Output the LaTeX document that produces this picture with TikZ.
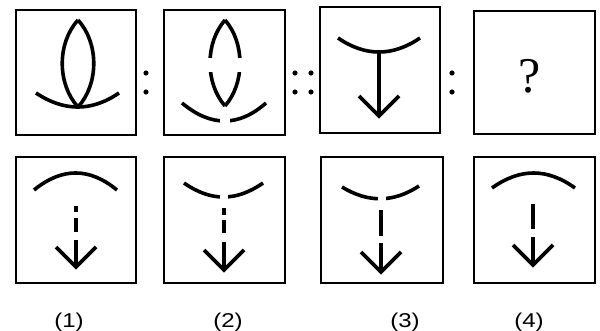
\documentclass[tikz,border=0pt]{standalone}
\usepackage{fontspec}
\setmainfont{Liberation Serif}
\setsansfont{Liberation Sans}
\begin{document}
\begin{tikzpicture}[x=1pt,y=-1pt,
  frame/.style={draw=black,line width=2pt,fill=none},
  fig/.style={draw=black,line width=3.6pt,line cap=butt,line join=miter},
  gapw/.style={fill=white,draw=none},
  dotc/.style={fill=black,draw=none},
  lbl/.style={font=\sffamily\fontsize{20}{24}\selectfont,anchor=base}]
\useasboundingbox (0,0) rectangle (600,331);
\fill[white] (0,0) rectangle (600,331);

% ---------- top row ----------
% box 1
\draw[fig] (78,20) .. controls (57,43) and (57,84) .. (78,107);
\draw[fig] (78,20) .. controls (99,43) and (99,84) .. (78,107);
\draw[fig] (36,93) .. controls (64,111.7) and (91.7,111.7) .. (119,93);
% box 2
\draw[fig] (225,20) .. controls (205,43) and (205,83) .. (225,106);
\draw[fig] (225,20) .. controls (245,43) and (245,83) .. (225,106);
\fill[gapw] (195,58) rectangle (255,72);
\draw[fig] (182,103) .. controls (210.7,127) and (238.7,127) .. (266,103);
\fill[gapw] (220,108) rectangle (230,130);
% box 3
\draw[fig] (338,38) .. controls (365.3,56.7) and (392.7,56.7) .. (420,38);
\coordinate (t3a) at (379,51);
\coordinate (t3b) at (379,116);
\draw[fig] (t3a) -- (t3b);
\draw[fig] (359,96) -- (379,116) -- (399,96);
% box 4
\node[font=\fontsize{50}{56}\selectfont] (q) at (530,76) {?};

% frames
\node[frame,minimum width=120pt,minimum height=125pt,inner sep=0pt] (b1) at (76,72.5) {};
\node[frame,minimum width=121pt,minimum height=125pt,inner sep=0pt] (b2) at (224.5,72.5) {};
\node[frame,minimum width=120pt,minimum height=126pt,inner sep=0pt] (b3) at (379.5,70) {};
\node[frame,minimum width=121pt,minimum height=123pt,inner sep=0pt] (b4) at (534.5,72.5) {};

% colons
\foreach \cx in {146,295,311,452}{
  \fill[dotc] (\cx,73) circle (2.6pt);
  \fill[dotc] (\cx,92) circle (2.6pt);
}

% ---------- bottom row ----------
% option 1
\draw[fig] (34,190) .. controls (62,167.3) and (89.3,167.3) .. (117,190);
\draw[fig] (76,206) -- (76,212);
\draw[fig] (76,218) -- (76,232);
\draw[fig] (76,240) -- (76,266);
\draw[fig] (56,247) -- (76,267) -- (96,247);
% option 2
\draw[fig] (184,183) .. controls (210.7,201.7) and (236.3,201.7) .. (263,183);
\fill[gapw] (220,190) rectangle (228,205);
\draw[fig] (224,208) -- (224,215);
\draw[fig] (224,220) -- (224,233);
\draw[fig] (224,242) -- (224,269);
\draw[fig] (204,250) -- (224,270) -- (244,250);
% option 3
\draw[fig] (342,187) .. controls (368,203) and (393.7,202.7) .. (419,186);
\fill[gapw] (378,190) rectangle (386,206);
\draw[fig] (381,210) -- (381,236);
\draw[fig] (381,243) -- (381,272);
\draw[fig] (361,252) -- (381,272) -- (401,252);
% option 4
\draw[fig] (492,188) .. controls (520,168) and (547.3,168) .. (575,188);
\draw[fig] (533,204) -- (533,229);
\draw[fig] (533,237) -- (533,264);
\draw[fig] (513,245) -- (533,265) -- (553,245);

% frames
\node[frame,minimum width=120pt,minimum height=126pt,inner sep=0pt] (o1) at (76,220) {};
\node[frame,minimum width=121pt,minimum height=126pt,inner sep=0pt] (o2) at (224.5,220) {};
\node[frame,minimum width=122pt,minimum height=126pt,inner sep=0pt] (o3) at (382,220) {};
\node[frame,minimum width=121pt,minimum height=126pt,inner sep=0pt] (o4) at (534.5,220) {};

% labels
\node[lbl] (l1) at (69,327) {\scalebox{1.2}[1]{(1)}};
\node[lbl] (l2) at (228,327) {\scalebox{1.2}[1]{(2)}};
\node[lbl] (l3) at (405,327) {\scalebox{1.2}[1]{(3)}};
\node[lbl] (l4) at (529,327) {\scalebox{1.2}[1]{(4)}};
\end{tikzpicture}
\end{document}
